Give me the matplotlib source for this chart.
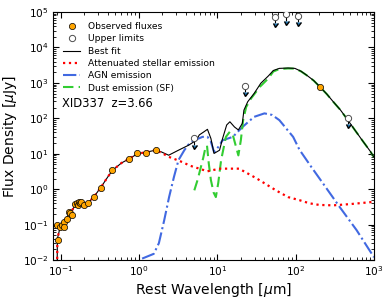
import numpy as np
import matplotlib
matplotlib.use('Agg')
import matplotlib.pyplot as plt

## -- observed photometry (rest frame)
obs_wave = [0.0897, 0.0916, 0.099, 0.104, 0.110, 0.112, 0.120, 0.127, 0.133, 0.140,
            0.155, 0.160, 0.165, 0.170, 0.175, 0.185, 0.197, 0.224, 0.265, 0.325,
            0.46, 0.75, 0.96, 1.22, 1.66, 204.]
obs_flux = [0.096, 0.036, 0.086, 0.10, 0.12, 0.083, 0.148, 0.23, 0.21, 0.186,
            0.38, 0.42, 0.36, 0.44, 0.40, 0.43, 0.36, 0.41, 0.60, 1.10,
            3.5, 7.0, 10.2, 10.7, 13.0, 780.]

## -- upper limits
ul_wave = [5.0, 22.6, 54., 76., 107., 460.]
ul_flux = [27., 830., 74000., 88000., 78000., 105.]

## -- best fit (total)
fit_wave = [0.0905, 0.0912, 0.099, 0.11, 0.12, 0.13, 0.14, 0.155, 0.175, 0.20,
            0.224, 0.265, 0.325, 0.40, 0.46, 0.60, 0.75, 0.96, 1.22, 1.6,
            1.9, 2.4, 3.2, 4.3, 5.4, 5.9, 6.8, 7.5, 8.3, 9.1,
            10.7, 11.7, 13.2, 14.5, 16.6, 18.6, 20.9, 21.9, 24.5, 29.5,
            36., 45., 52., 62., 80., 98., 117., 138., 170., 204.,
            251., 302., 372., 447., 562., 708., 891., 1000.]
fit_flux = [0.005, 0.04, 0.085, 0.11, 0.16, 0.21, 0.25, 0.36, 0.40, 0.38,
            0.41, 0.60, 1.1, 2.2, 3.4, 5.5, 7.2, 10., 11., 12.5,
            11.5, 9.1, 12.6, 17.4, 24., 34., 42., 49., 27., 10.2,
            12.6, 27., 65., 80., 57., 47., 72., 170., 295., 500.,
            980., 1580., 2240., 2570., 2630., 2570., 2140., 1660., 1170., 780.,
            480., 295., 174., 100., 49., 24., 12., 8.]

## -- attenuated stellar emission
st_wave = [0.0905, 0.0912, 0.099, 0.11, 0.12, 0.13, 0.14, 0.155, 0.175, 0.20,
           0.224, 0.265, 0.325, 0.40, 0.46, 0.60, 0.75, 0.96, 1.22, 1.6,
           1.9, 2.4, 3.0, 3.6, 4.5, 5.9, 7.5, 9., 11., 14.,
           19., 23., 32., 56., 80., 112., 150., 200., 300., 500., 1000.]
st_flux = [0.005, 0.04, 0.085, 0.11, 0.16, 0.21, 0.25, 0.36, 0.40, 0.38,
           0.41, 0.60, 1.1, 2.2, 3.4, 5.5, 7.2, 10., 11., 12.5,
           11., 8.2, 6.8, 5.8, 4.6, 3.8, 3.2, 3.5, 3.8, 3.8,
           3.8, 3.0, 2.0, 0.93, 0.6, 0.49, 0.40, 0.36, 0.35, 0.38, 0.44]

## -- AGN emission
agn_wave = [1.1, 1.55, 1.8, 2.1, 2.43, 2.8, 3.2, 3.8, 4.4, 5.1,
            6.5, 7.5, 8.3, 9.1, 10., 11.7, 15.8, 21., 29.5, 40.,
            50., 62., 93., 112., 158., 224., 363., 600., 1000.]
agn_flux = [0.011, 0.015, 0.03, 0.13, 0.6, 2.2, 6.6, 12.6, 19.5, 24.,
            30., 30., 22., 11.2, 14.1, 24., 30., 57., 110., 138.,
            125., 89., 30., 13., 4.3, 1.45, 0.32, 0.07, 0.012]

## -- dust emission (star formation)
sf_wave = [5.1, 5.6, 6.2, 6.6, 7.1, 7.4, 7.8, 8.3, 9.0, 9.6,
           10.3, 11.2, 12.9, 14.5, 15.8, 17.4, 18.6, 20.0, 21.4, 23.4,
           27., 35., 45., 52., 62., 80., 98., 117., 138., 170., 204.,
           251., 302., 372., 447., 562., 708., 891., 1000.]
sf_flux = [0.93, 1.8, 4.3, 7.4, 15.5, 17., 5.3, 1.8, 0.8, 0.6,
           1.5, 6.6, 30., 42., 34., 15.5, 9., 24., 89., 209.,
           363., 776., 1350., 2100., 2450., 2560., 2530., 2120., 1650., 1160., 775.,
           478., 294., 173., 100., 49., 24., 12., 8.]

#******************************************************************************
## -- Plot SED
#******************************************************************************
plt.rc('font', family='DejaVu Sans')
fig = plt.figure(figsize=(3.92, 3.01), dpi=100)
ax = fig.add_axes([0.135, 0.136, 0.819, 0.824])

ax.plot(fit_wave, fit_flux, color='k', lw=0.8, label='Best fit', zorder=3)
ax.plot(st_wave, st_flux, color='red', ls=':', lw=1.6,
        label='Attenuated stellar emission', zorder=4)
ax.plot(agn_wave, agn_flux, color='royalblue', ls='-.', lw=1.5,
        label='AGN emission', zorder=2)
ax.plot(sf_wave, sf_flux, color='limegreen', ls='--', lw=1.5,
        dashes=(5, 2.5), label='Dust emission (SF)', zorder=2)

ax.plot(obs_wave, obs_flux, 'o', mfc='orange', mec='k', mew=0.5, ms=4.5,
        label='Observed fluxes', zorder=6)

ulx = np.array(ul_wave)
uly = np.array(ul_flux)
ax.errorbar(ulx, uly, yerr=0.35 * uly, uplims=True, fmt='none',
            ecolor='k', elinewidth=0.8, capsize=1.8, zorder=5)
ax.plot(ulx, uly, 'o', mfc='white', mec='0.3', mew=0.7, ms=4.5,
        label='Upper limits', zorder=6)

ax.set_xscale('log')
ax.set_yscale('log')
ax.set_xlim(0.08, 1000)
ax.set_ylim(1e-2, 1e5)
ax.set_xlabel(r'Rest Wavelength [$\mu$m]', fontsize=10)
ax.set_ylabel(r'Flux Density [$\mu$Jy]', fontsize=10)
ax.xaxis.set_label_coords(0.5, -0.085)
ax.yaxis.set_label_coords(-0.105, 0.5)
ax.tick_params(which='both', direction='in', top=True, right=True, labelsize=7.6)
ax.tick_params(which='major', length=4, pad=3)
ax.tick_params(which='minor', length=2)

h, l = ax.get_legend_handles_labels()
order = [4, 5, 0, 1, 2, 3]
ax.legend([h[i] for i in order], [l[i] for i in order], loc='upper left',
          frameon=False, fontsize=6.6, numpoints=1, labelspacing=0.36,
          handlelength=1.9, borderaxespad=0.7)
ax.text(0.028, 0.633, 'XID337  z=3.66', transform=ax.transAxes,
        fontsize=8.3, va='center', ha='left')

plt.savefig('out.png', dpi=100)
